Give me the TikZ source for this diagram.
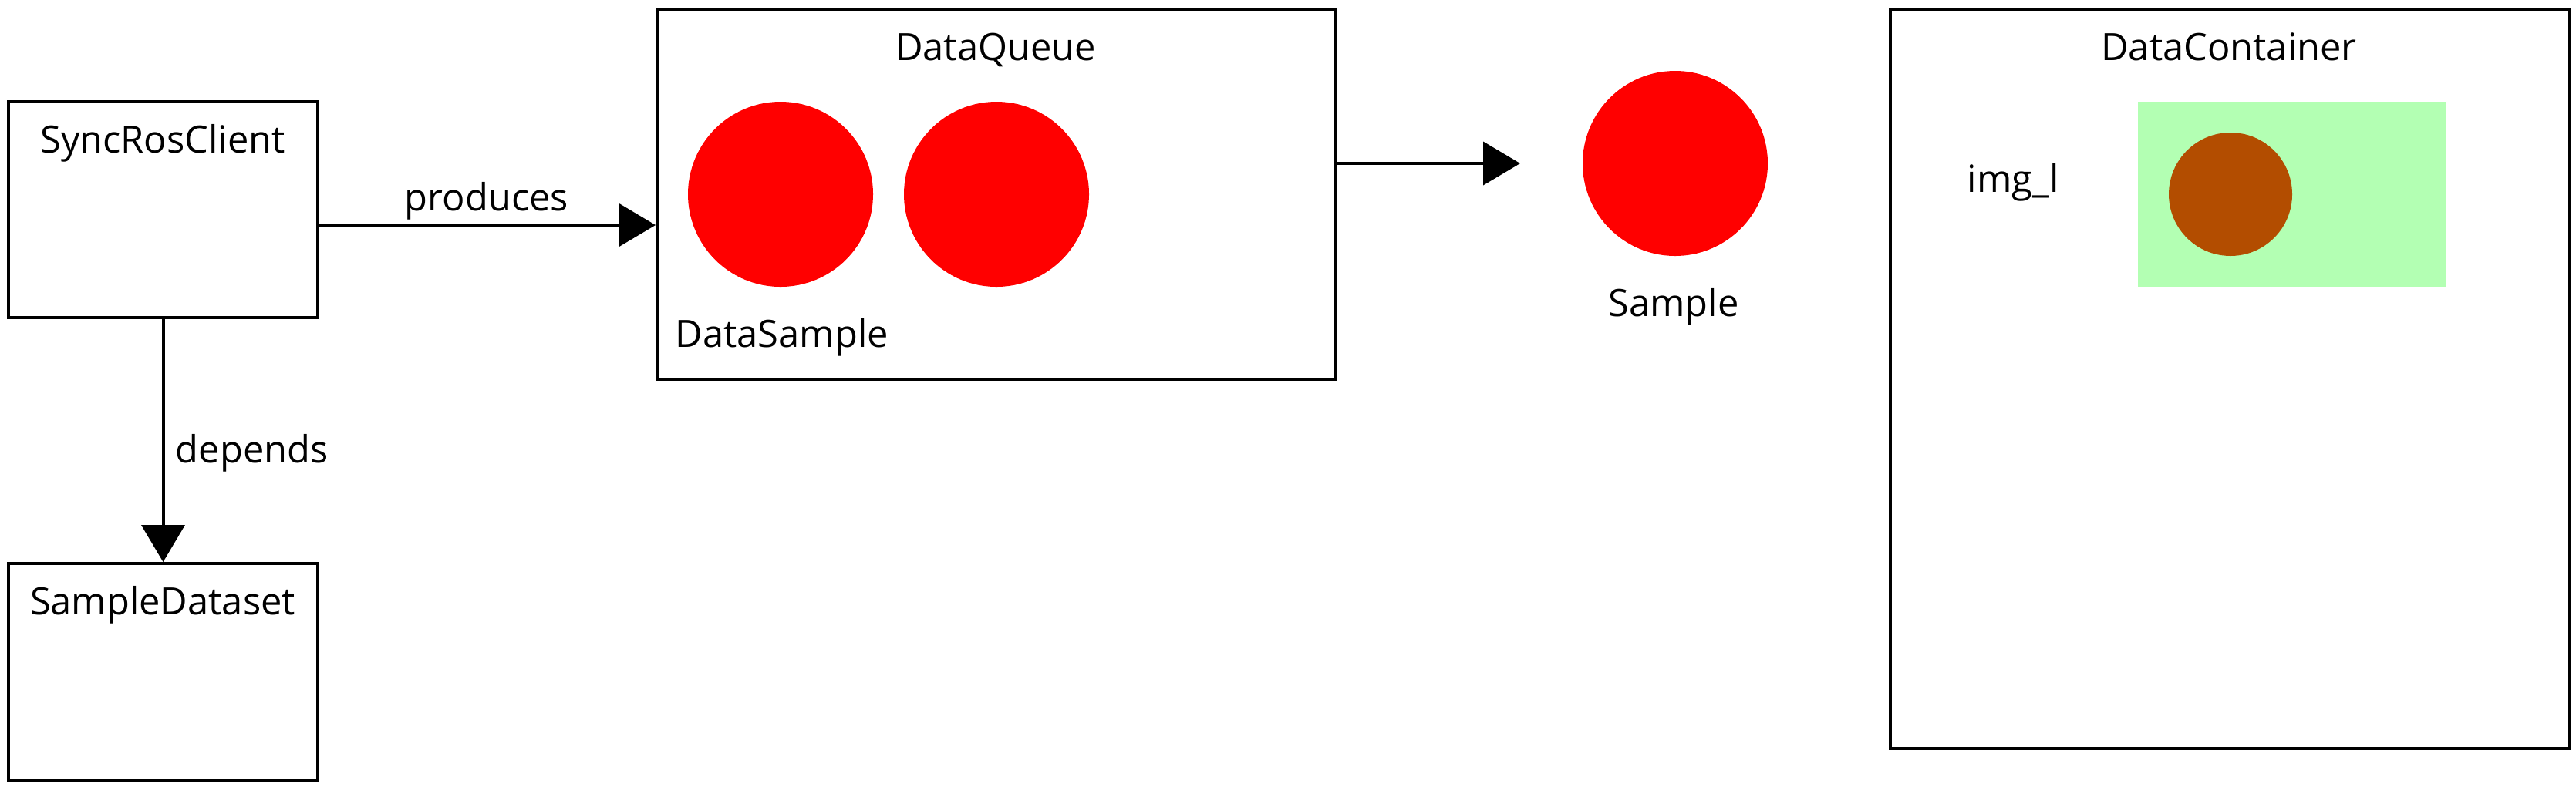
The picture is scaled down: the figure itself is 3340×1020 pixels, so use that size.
\documentclass[tikz,border=0pt]{standalone}
\usepackage{fontspec}
\setmainfont{Open Sans}
\usetikzlibrary{arrows.meta}
\definecolor{qred}{HTML}{FF0000}
\definecolor{qgreen}{HTML}{B3FFB3}
\definecolor{qbrown}{HTML}{B34D00}
\tikzset{
  box/.style={draw=black, line width=1pt, fill=white, inner sep=0pt},
  txt/.style={font=\fontsize{12.2pt}{14pt}\selectfont, inner sep=0pt},
  dot/.style={circle, fill=qred, inner sep=0pt, minimum size=60pt},
  conn/.style={line width=1pt, -{Triangle[length=12pt,width=14pt]}},
}
\begin{document}
\begin{tikzpicture}[x=0.25pt, y=-0.25pt]
\useasboundingbox (0,0) rectangle (3340,1020);
\fill[white] (0,0) rectangle (3340,1020);
% boxes
\node[box, minimum width=100.25pt, minimum height=70pt] (src) at (211.5,272) {};
\node[box, minimum width=100.25pt, minimum height=70.25pt] (sd) at (211.5,871.5) {};
\node[box, minimum width=219.75pt, minimum height=120pt] (dq) at (1291.5,252) {};
\node[box, minimum width=220.25pt, minimum height=239.75pt] (dc) at (2891.5,491.5) {};
% circles
\node[dot] (c1) at (1012,252) {};
\node[dot] (c2) at (1292,252) {};
\node[dot] (smp) at (2172,212) {};
\node[fill=qgreen, inner sep=0pt, minimum width=100pt, minimum height=60pt] (img) at (2972,252) {};
\node[circle, fill=qbrown, inner sep=0pt, minimum size=40pt] (ic) at (2892,252) {};
% texts
\node[txt, anchor=base] (tsrc) at (211,198) {SyncRosClient};
\node[txt, anchor=base] (tsd) at (211,797) {SampleDataset};
\node[txt, anchor=base] (tdq) at (1291,78) {DataQueue};
\node[txt, anchor=base west] (tds) at (875,450) {DataSample};
\node[txt, anchor=base] (tsmp) at (2170,410) {Sample};
\node[txt, anchor=base] (tdc) at (2890,78) {DataContainer};
\node[txt, anchor=base] (timg) at (2610,249) {img\_l};
% connectors
\coordinate (p) at (0,292);
\draw[conn] (src.east |- p) -- (dq.west |- p);
\node[txt, anchor=base] (tprod) at (631,273) {produces};
\coordinate (q) at (0,212);
\coordinate (qend) at (1971,212);
\draw[conn] (dq.east |- q) -- (qend);
\draw[conn] (src.south) -- (sd.north);
\node[txt, anchor=base west] (tdep) at (227,600) {depends};
\end{tikzpicture}
\end{document}
